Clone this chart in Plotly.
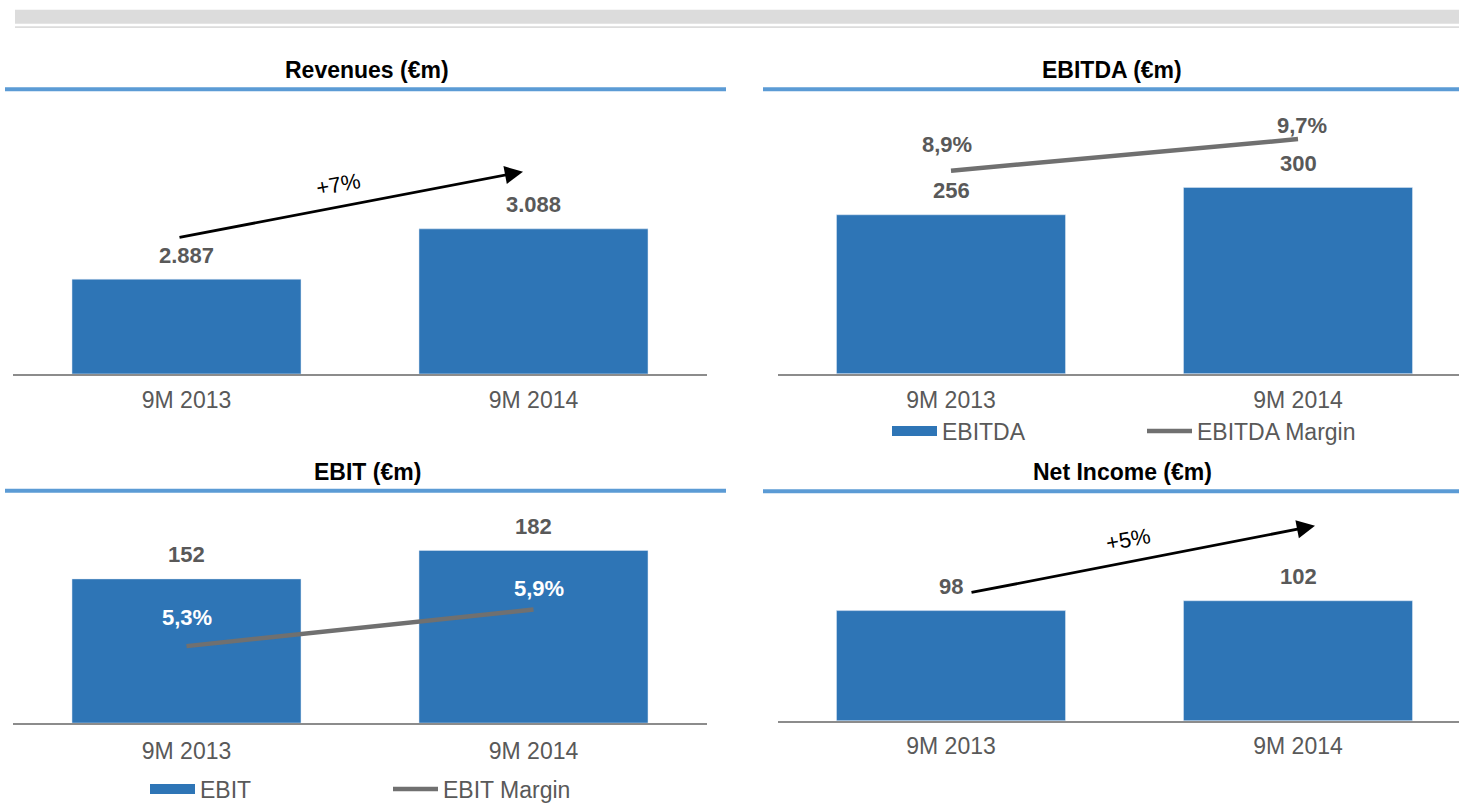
import plotly.graph_objects as go

# ---------------- data ----------------
periods = ["9M 2013", "9M 2014"]
revenues = [2887, 3088]
revenues_growth = "+7%"
ebitda = [256, 300]
ebitda_margin = [8.9, 9.7]
ebit = [152, 182]
ebit_margin = [5.3, 5.9]
net_income = [98, 102]
net_income_growth = "+5%"
titles = ["Revenues (€m)", "EBITDA (€m)", "EBIT (€m)", "Net Income (€m)"]

# ---------------- style ----------------
W, H = 1459, 811
FONT = "Liberation Sans, Arial, sans-serif"
BLUE = "#2E75B6"
LINEBLUE = "#5B9BD5"
GRAY = "#595959"
MGRAY = "#707070"
AXGRAY = "#8C8C8C"


def px(x):
    return x / W


def py(y):
    return 1 - y / H


fig = go.Figure()

# bars and margin lines
fig.add_trace(go.Bar(x=periods, y=revenues, marker_color=BLUE, width=0.66,
                     xaxis="x", yaxis="y", showlegend=False, hoverinfo="skip"))
fig.add_trace(go.Bar(x=periods, y=ebitda, marker_color=BLUE, width=0.66, name="EBITDA",
                     xaxis="x2", yaxis="y2", showlegend=False, hoverinfo="skip"))
fig.add_trace(go.Scatter(x=periods, y=ebitda_margin, mode="lines", name="EBITDA Margin",
                         line=dict(color=MGRAY, width=4.5), xaxis="x2", yaxis="y5",
                         showlegend=False, hoverinfo="skip"))
fig.add_trace(go.Bar(x=periods, y=ebit, marker_color=BLUE, width=0.66, name="EBIT",
                     xaxis="x3", yaxis="y3", showlegend=False, hoverinfo="skip"))
fig.add_trace(go.Scatter(x=periods, y=ebit_margin, mode="lines", name="EBIT Margin",
                         line=dict(color=MGRAY, width=4.5), xaxis="x3", yaxis="y6",
                         showlegend=False, hoverinfo="skip"))
fig.add_trace(go.Bar(x=periods, y=net_income, marker_color=BLUE, width=0.66,
                     xaxis="x4", yaxis="y4", showlegend=False, hoverinfo="skip"))

# legend entries (legend-only swatches)
fig.add_trace(go.Scatter(x=[None], y=[None], mode="lines", name="EBITDA",
                         line=dict(color=BLUE, width=12), xaxis="x2", yaxis="y2",
                         legend="legend"))
fig.add_trace(go.Scatter(x=[None], y=[None], mode="lines", name="EBITDA Margin",
                         line=dict(color=MGRAY, width=4.5), xaxis="x2", yaxis="y2",
                         legend="legend"))
fig.add_trace(go.Scatter(x=[None], y=[None], mode="lines", name="EBIT",
                         line=dict(color=BLUE, width=12), xaxis="x3", yaxis="y3",
                         legend="legend2"))
fig.add_trace(go.Scatter(x=[None], y=[None], mode="lines", name="EBIT Margin",
                         line=dict(color=MGRAY, width=4.5), xaxis="x3", yaxis="y3",
                         legend="legend2"))

xl = [px(13), px(707)]
xr = [px(777.5), 1.0]
xr_range = [-0.5, -0.5 + (W - 777.5) / 347.0]

common_x = dict(type="category", showgrid=False, zeroline=False, showline=True,
                linecolor=AXGRAY, linewidth=2, ticks="", fixedrange=True,
                tickfont=dict(family=FONT, size=23, color=GRAY))
common_y = dict(visible=False, showgrid=False, zeroline=False, fixedrange=True)

layout = dict(
    width=W, height=H, margin=dict(l=0, r=0, t=0, b=0),
    paper_bgcolor="white", plot_bgcolor="white",
    separators=",.", barmode="group",
    font=dict(family=FONT, color=GRAY),
    xaxis=dict(common_x, domain=xl, range=[-0.5, 1.5], anchor="y", ticklabelstandoff=5),
    yaxis=dict(common_y, domain=[py(379), py(95)], range=[2508.6, 3628], anchor="x"),
    xaxis2=dict(common_x, domain=xr, range=xr_range, anchor="y2", ticklabelstandoff=5),
    yaxis2=dict(common_y, domain=[py(379), py(95)], range=[0, 450.8], anchor="x2"),
    yaxis5=dict(common_y, overlaying="y2", range=[3.75, 10.85], anchor="x2"),
    xaxis3=dict(common_x, domain=xl, range=[-0.5, 1.5], anchor="y3", ticklabelstandoff=6),
    yaxis3=dict(common_y, domain=[py(733), py(500)], range=[0, 242.3], anchor="x3"),
    yaxis6=dict(common_y, overlaying="y3", range=[4.036, 7.812], anchor="x3"),
    xaxis4=dict(common_x, domain=xr, range=xr_range, anchor="y4", ticklabelstandoff=4),
    yaxis4=dict(common_y, domain=[py(730.5), py(500)], range=[53.4, 145.6], anchor="x4"),
    legend=dict(orientation="h", x=px(887), y=py(437), xanchor="left", yanchor="middle",
                entrywidth=195, entrywidthmode="pixels", itemwidth=45,
                font=dict(family=FONT, size=23, color=GRAY), bgcolor="rgba(0,0,0,0)"),
    legend2=dict(orientation="h", x=px(145), y=py(800), xanchor="left", yanchor="middle",
                 entrywidth=183, entrywidthmode="pixels", itemwidth=45,
                 font=dict(family=FONT, size=23, color=GRAY), bgcolor="rgba(0,0,0,0)"),
)
fig.update_layout(**layout)

ann = []
# titles
title_pos = [(367, 71), (1112, 71), (367, 478), (1122, 478)]
for t, (tx, ty) in zip(titles, title_pos):
    ann.append(dict(text="<b>%s</b>" % t, x=px(tx), y=py(ty), xref="paper", yref="paper",
                    showarrow=False, xanchor="center", yanchor="middle",
                    font=dict(family=FONT, size=23, color="black")))


def fmt_int(v):
    return "{:,.0f}".format(v).replace(",", ".")


def fmt_pct(v):
    return ("%.1f%%" % v).replace(".", ",")


# bar value labels
for vals, xa, ya in [(revenues, "x", "y"), (ebitda, "x2", "y2"), (ebit, "x3", "y3"),
                     (net_income, "x4", "y4")]:
    for p, v in zip(periods, vals):
        ann.append(dict(text="<b>%s</b>" % fmt_int(v), x=p, y=v, xref=xa, yref=ya,
                        showarrow=False, yanchor="middle", xanchor="center", yshift=24,
                        font=dict(family=FONT, size=22, color=GRAY)))

# margin labels
for p, v, ys, xs in zip(periods, ebitda_margin, [26, 14], [-4, 4]):
    ann.append(dict(text="<b>%s</b>" % fmt_pct(v), x=p, y=v, xref="x2", yref="y5",
                    showarrow=False, yanchor="middle", xanchor="center", yshift=ys, xshift=xs,
                    font=dict(family=FONT, size=22, color=GRAY)))
for p, v, ys, xs in zip(periods, ebit_margin, [29, 21], [0, 5]):
    ann.append(dict(text="<b>%s</b>" % fmt_pct(v), x=p, y=v, xref="x3", yref="y6",
                    showarrow=False, yanchor="middle", xanchor="center", yshift=ys, xshift=xs,
                    font=dict(family=FONT, size=22, color="white")))

# growth arrows
for (tail, head, lbl, lblpos) in [((178, 240), (523, 174), revenues_growth, (338, 187)),
                                  ((970, 600), (1315, 533), net_income_growth, (1128, 547))]:
    ann.append(dict(text="", x=px(head[0]), y=py(head[1]), xref="paper", yref="paper",
                    ax=tail[0] - head[0], ay=tail[1] - head[1], axref="pixel", ayref="pixel",
                    showarrow=True, arrowhead=2, arrowsize=1.3, arrowwidth=2.8,
                    arrowcolor="black", standoff=0))
    ann.append(dict(text=lbl, x=px(lblpos[0]), y=py(lblpos[1]), xref="paper", yref="paper",
                    showarrow=False, xanchor="center", yanchor="middle", textangle=-10,
                    font=dict(family=FONT, size=22, color="black")))

fig.update_layout(annotations=ann)

shapes = [
    dict(type="rect", xref="paper", yref="paper", x0=px(15), x1=1, y0=py(24), y1=py(10),
         fillcolor="#DCDCDC", line=dict(width=0), layer="below"),
    dict(type="rect", xref="paper", yref="paper", x0=px(15), x1=1, y0=py(28.5), y1=py(26.5),
         fillcolor="#DCDCDC", line=dict(width=0), layer="below"),
]
for (x0, x1, yy) in [(5, 726, 90.5), (763, W, 90.5), (5, 726, 497.5), (763, W, 498)]:
    shapes.append(dict(type="line", xref="paper", yref="paper", x0=px(x0), x1=px(x1),
                       y0=py(yy), y1=py(yy), line=dict(color=LINEBLUE, width=4)))
fig.update_layout(shapes=shapes)

fig.write_html("out.html")
